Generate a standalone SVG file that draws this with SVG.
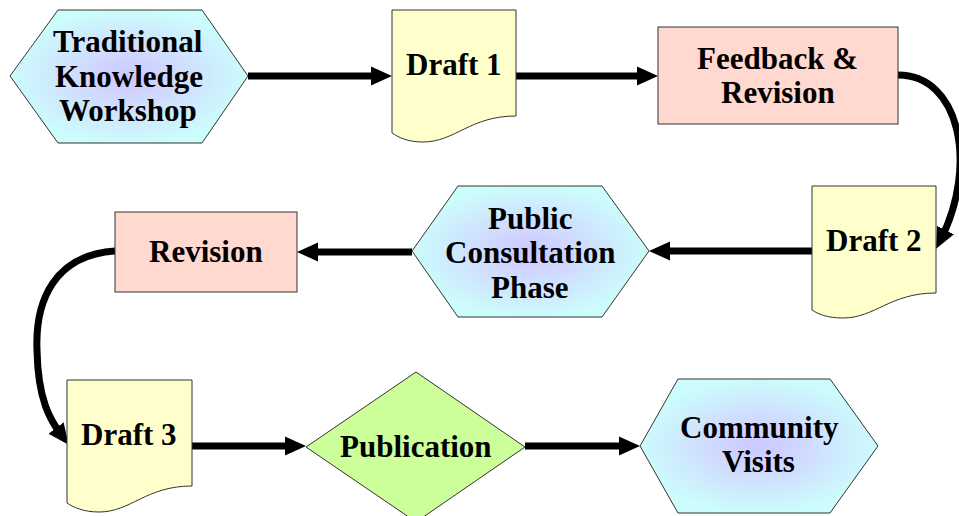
<svg xmlns="http://www.w3.org/2000/svg" width="959" height="516" viewBox="0 0 959 516">
<style>
.node{stroke:#333;stroke-width:1}
.conn{fill:none;stroke:#000;stroke-width:7}
</style>
<defs>
<radialGradient id="hg" cx="50%" cy="50%" r="50%">
<stop offset="0" stop-color="#ccc8ff"/>
<stop offset="0.35" stop-color="#d0d8ff"/>
<stop offset="1" stop-color="#ccfcfc"/>
</radialGradient>
<marker id="ah" markerUnits="userSpaceOnUse" markerWidth="22" markerHeight="20" viewBox="0 0 22 20" refX="10" refY="10" orient="auto">
<path d="M0,0.5 L21,10 L0,19.5 Z" fill="#000"/>
</marker>
</defs>
<g id="connectors" class="conn" marker-end="url(#ah)">
<path d="M248,76 H381"/>
<path d="M516,76 H647"/>
<path d="M898,75 C960,75 978,165 941,239"/>
<path d="M812,251 H660"/>
<path d="M412,252 H308"/>
<path d="M115,251 C55,255 35,300 37,350 C38,400 50,420 62,436"/>
<path d="M192,446 H295"/>
<path d="M525,446 H629"/>
</g>
<g id="traditional">
<polygon class="node" fill="url(#hg)" points="10,76 58,10 202,10 248,76 202,143 58,143"/>
<text x="53" y="52" font-family="Liberation Serif" font-size="31" font-weight="bold">Traditional</text>
<text x="55" y="87" font-family="Liberation Serif" font-size="31" font-weight="bold">Knowledge</text>
<text x="59" y="121" font-family="Liberation Serif" font-size="31" font-weight="bold">Workshop</text>
</g>
<g id="draft1">
<path class="node" fill="#ffffcc" d="M392,10 H516 V116 C470,116 455,142 423,142 C407,142 398,137 392,133 Z"/>
<text x="406" y="75" font-family="Liberation Serif" font-size="31" font-weight="bold">Draft 1</text>
</g>
<g id="feedback">
<rect class="node" fill="#ffd8d0" x="658" y="27" width="240" height="97"/>
<text x="697" y="69" font-family="Liberation Serif" font-size="31" font-weight="bold">Feedback &amp;</text>
<text x="721" y="103" font-family="Liberation Serif" font-size="31" font-weight="bold">Revision</text>
</g>
<g id="draft2">
<path class="node" fill="#ffffcc" d="M812,186 H936 V293 C890,293 875,318 843,318 C827,318 818,314 812,310 Z"/>
<text x="826" y="251" font-family="Liberation Serif" font-size="31" font-weight="bold">Draft 2</text>
</g>
<g id="public">
<polygon class="node" fill="url(#hg)" points="412,251 458,186 602,186 649,251 602,317 458,317"/>
<text x="488" y="229" font-family="Liberation Serif" font-size="31" font-weight="bold">Public</text>
<text x="445" y="263" font-family="Liberation Serif" font-size="31" font-weight="bold">Consultation</text>
<text x="491" y="298" font-family="Liberation Serif" font-size="31" font-weight="bold">Phase</text>
</g>
<g id="revision">
<rect class="node" fill="#ffd8d0" x="115" y="212" width="182" height="80"/>
<text x="149" y="262" font-family="Liberation Serif" font-size="31" font-weight="bold">Revision</text>
</g>
<g id="draft3">
<path class="node" fill="#ffffcc" d="M67,380 H192 V486 C146,486 131,512 99,512 C83,512 73,507 67,503 Z"/>
<text x="81" y="445" font-family="Liberation Serif" font-size="31" font-weight="bold">Draft 3</text>
</g>
<g id="publication">
<polygon class="node" fill="#ccff99" points="306,447 416,372 525,447 416,522"/>
<text x="340" y="457" font-family="Liberation Serif" font-size="31" font-weight="bold">Publication</text>
</g>
<g id="community">
<polygon class="node" fill="url(#hg)" points="640,446 678,379 830,379 878,446 830,513 678,513"/>
<text x="680" y="438" font-family="Liberation Serif" font-size="31" font-weight="bold">Community</text>
<text x="722" y="472" font-family="Liberation Serif" font-size="31" font-weight="bold">Visits</text>
</g>
</svg>
